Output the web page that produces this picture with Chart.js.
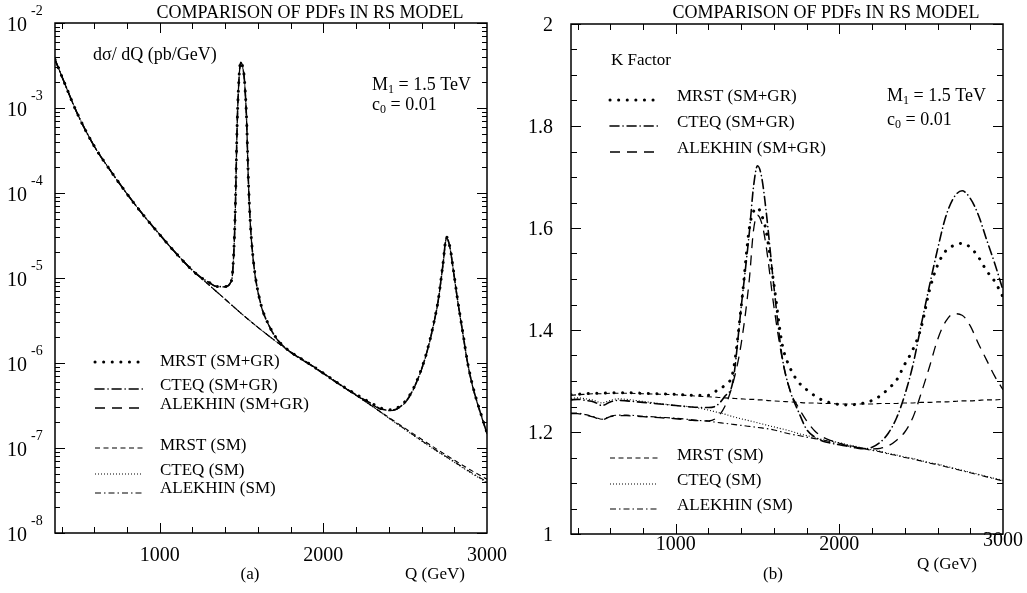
<!DOCTYPE html>
<html>
<head>
<meta charset="utf-8">
<script src="https://cdn.jsdelivr.net/npm/chart.js@4/dist/chart.umd.min.js"></script>
<style>
  body { margin: 0; background: #fff; }
  #wrap { position: relative; width: 1027px; height: 593px; }
  canvas { position: absolute; top: 0; }
</style>
</head>
<body>
<div id="wrap">
  <canvas id="left" width="515" height="593" style="left:0"></canvas>
  <canvas id="right" width="512" height="593" style="left:515px"></canvas>
</div>
<script>
// ---- panel (a): d sigma / dQ  (pb/GeV), log scale ----
const qSM = [360, 400, 500, 600, 700, 800, 900, 1000, 1100, 1200, 1300, 1400, 1500, 1600, 1700,
  1800, 1900, 2000, 2100, 2200, 2300, 2400, 2500, 2600, 2700, 2800, 2900, 3000];
const mrstSM = [3.72e-3, 2.40e-3, 8.32e-4, 3.55e-4, 1.82e-4, 9.77e-5, 5.50e-5, 3.24e-5, 1.95e-5, 1.23e-5,
  8.32e-6, 5.62e-6, 3.80e-6, 2.63e-6, 1.86e-6, 1.35e-6, 1.02e-6, 7.59e-7, 5.62e-7, 4.17e-7,
  3.09e-7, 2.29e-7, 1.70e-7, 1.27e-7, 9.5e-8, 7.2e-8, 5.5e-8, 4.3e-8];
const cteqSM = [3.72e-3, 2.40e-3, 8.32e-4, 3.55e-4, 1.82e-4, 9.77e-5, 5.50e-5, 3.24e-5, 1.95e-5, 1.23e-5,
  8.32e-6, 5.62e-6, 3.80e-6, 2.63e-6, 1.86e-6, 1.35e-6, 1.02e-6, 7.59e-7, 5.62e-7, 4.17e-7,
  3.09e-7, 2.24e-7, 1.64e-7, 1.21e-7, 9.0e-8, 6.8e-8, 5.1e-8, 3.9e-8];
const alekhinSM = [3.72e-3, 2.40e-3, 8.32e-4, 3.55e-4, 1.82e-4, 9.77e-5, 5.50e-5, 3.24e-5, 1.95e-5, 1.23e-5,
  8.32e-6, 5.62e-6, 3.80e-6, 2.63e-6, 1.86e-6, 1.35e-6, 1.02e-6, 7.59e-7, 5.62e-7, 4.17e-7,
  3.09e-7, 2.26e-7, 1.66e-7, 1.22e-7, 9.1e-8, 6.9e-8, 5.2e-8, 4.0e-8];

const qGR = [360, 400, 500, 600, 700, 800, 900, 1000, 1100, 1200, 1250, 1300, 1350, 1400, 1430, 1445,
  1460, 1474, 1485, 1495, 1505, 1517, 1531, 1541, 1552, 1572, 1612, 1674, 1735, 1800, 1900, 2000,
  2100, 2200, 2300, 2350, 2400, 2450, 2510, 2550, 2590, 2620, 2651, 2680, 2702, 2730, 2753, 2775,
  2792, 2820, 2853, 2880, 2914, 2950, 2975, 3000];
const mrstGR = [3.72e-3, 2.40e-3, 8.32e-4, 3.55e-4, 1.82e-4, 9.77e-5, 5.50e-5, 3.24e-5, 1.95e-5, 1.23e-5,
  1.02e-5, 8.91e-6, 7.94e-6, 7.94e-6, 8.71e-6, 1.15e-5, 4.79e-5, 7.24e-4, 2.34e-3, 3.51e-3,
  3.16e-3, 2.24e-3, 7.24e-4, 1.58e-4, 5.01e-5, 1.62e-5, 5.50e-6, 2.63e-6, 1.74e-6, 1.35e-6,
  1.02e-6, 7.59e-7, 5.62e-7, 4.27e-7, 3.31e-7, 2.95e-7, 2.82e-7, 2.95e-7, 3.72e-7, 5.01e-7,
  7.59e-7, 1.12e-6, 1.86e-6, 3.31e-6, 5.50e-6, 1.41e-5, 3.02e-5, 2.24e-5, 1.35e-5, 5.62e-6,
  2.24e-6, 1.05e-6, 5.25e-7, 3.02e-7, 2.14e-7, 1.51e-7];
const cteqGR = [3.72e-3, 2.40e-3, 8.32e-4, 3.55e-4, 1.82e-4, 9.77e-5, 5.50e-5, 3.24e-5, 1.95e-5, 1.23e-5,
  1.02e-5, 8.91e-6, 7.94e-6, 7.90e-6, 8.65e-6, 1.14e-5, 4.70e-5, 7.10e-4, 2.30e-3, 3.45e-3,
  3.12e-3, 2.20e-3, 7.10e-4, 1.55e-4, 4.95e-5, 1.60e-5, 5.45e-6, 2.61e-6, 1.73e-6, 1.34e-6,
  1.01e-6, 7.55e-7, 5.58e-7, 4.22e-7, 3.27e-7, 2.90e-7, 2.78e-7, 2.90e-7, 3.66e-7, 4.95e-7,
  7.50e-7, 1.11e-6, 1.84e-6, 3.27e-6, 5.45e-6, 1.40e-5, 2.98e-5, 2.21e-5, 1.33e-5, 5.55e-6,
  2.21e-6, 1.04e-6, 5.18e-7, 2.98e-7, 2.10e-7, 1.48e-7];
const alekhinGR = [3.72e-3, 2.40e-3, 8.32e-4, 3.55e-4, 1.82e-4, 9.77e-5, 5.50e-5, 3.24e-5, 1.95e-5, 1.23e-5,
  1.02e-5, 8.85e-6, 7.90e-6, 7.85e-6, 8.60e-6, 1.13e-5, 4.65e-5, 7.00e-4, 2.28e-3, 3.42e-3,
  3.10e-3, 2.18e-3, 7.00e-4, 1.53e-4, 4.90e-5, 1.58e-5, 5.40e-6, 2.60e-6, 1.72e-6, 1.33e-6,
  1.00e-6, 7.50e-7, 5.55e-7, 4.18e-7, 3.22e-7, 2.85e-7, 2.75e-7, 2.86e-7, 3.60e-7, 4.88e-7,
  7.42e-7, 1.10e-6, 1.82e-6, 3.24e-6, 5.40e-6, 1.38e-5, 2.95e-5, 2.19e-5, 1.32e-5, 5.50e-6,
  2.18e-6, 1.03e-6, 5.12e-7, 2.95e-7, 2.08e-7, 1.46e-7];

// ---- panel (b): K factor ----
const qK = [360, 400, 450, 500, 550, 600, 650, 700, 800, 900, 1000, 1100, 1200, 1250, 1300, 1350, 1400,
  1450, 1475, 1500, 1525, 1550, 1600, 1650, 1700, 1750, 1800, 1850, 1900, 1950, 2000, 2050, 2100,
  2150, 2200, 2250, 2300, 2350, 2400, 2450, 2500, 2550, 2600, 2650, 2700, 2750, 2800, 2850, 2900,
  2950, 3000];
const kMrstSM = [1.272, 1.273, 1.274, 1.275, 1.275, 1.276, 1.276, 1.276, 1.275, 1.274,
  1.273, 1.271, 1.269, 1.268, 1.267, 1.266, 1.265, 1.264, 1.264, 1.263,
  1.263, 1.262, 1.261, 1.260, 1.259, 1.258, 1.257, 1.257, 1.256, 1.256,
  1.255, 1.255, 1.255, 1.255, 1.255, 1.256, 1.256, 1.256, 1.257, 1.257,
  1.258, 1.258, 1.259, 1.259, 1.260, 1.261, 1.261, 1.262, 1.263, 1.263, 1.264];
const kMrstGR = [1.273, 1.274, 1.275, 1.276, 1.276, 1.277, 1.277, 1.277, 1.276, 1.275,
  1.274, 1.272, 1.272, 1.281, 1.292, 1.318, 1.445, 1.600, 1.632, 1.640,
  1.625, 1.598, 1.490, 1.373, 1.325, 1.298, 1.283, 1.271, 1.262, 1.257,
  1.254, 1.253, 1.254, 1.257, 1.262, 1.271, 1.285, 1.302, 1.333, 1.362,
  1.405, 1.477, 1.527, 1.555, 1.566, 1.570, 1.562, 1.543, 1.516, 1.495, 1.465];
const kCteqSM = [1.266, 1.267, 1.265, 1.262, 1.257, 1.262, 1.265, 1.264, 1.260, 1.256,
  1.252, 1.249, 1.243, 1.239, 1.235, 1.230, 1.226, 1.222, 1.220, 1.218,
  1.216, 1.214, 1.210, 1.206, 1.202, 1.197, 1.193, 1.189, 1.185, 1.182,
  1.179, 1.175, 1.172, 1.168, 1.165, 1.162, 1.158, 1.155, 1.151, 1.148,
  1.144, 1.140, 1.137, 1.133, 1.129, 1.125, 1.121, 1.117, 1.113, 1.109, 1.105];
const kCteqGR = [1.263, 1.264, 1.262, 1.259, 1.252, 1.259, 1.262, 1.261, 1.258, 1.255,
  1.252, 1.249, 1.248, 1.252, 1.270, 1.300, 1.445, 1.592, 1.680, 1.722,
  1.700, 1.640, 1.485, 1.348, 1.280, 1.240, 1.205, 1.190, 1.182, 1.178,
  1.175, 1.172, 1.169, 1.167, 1.170, 1.180, 1.198, 1.228, 1.273, 1.332,
  1.410, 1.486, 1.558, 1.622, 1.660, 1.673, 1.658, 1.625, 1.577, 1.530, 1.478];
const kAlekhinSM = [1.237, 1.237, 1.234, 1.230, 1.225, 1.231, 1.233, 1.233, 1.231, 1.229,
  1.227, 1.224, 1.221, 1.219, 1.217, 1.215, 1.213, 1.211, 1.210, 1.209,
  1.208, 1.207, 1.204, 1.200, 1.196, 1.193, 1.190, 1.187, 1.184, 1.181,
  1.178, 1.174, 1.171, 1.167, 1.164, 1.161, 1.157, 1.154, 1.150, 1.147,
  1.143, 1.139, 1.136, 1.132, 1.128, 1.124, 1.120, 1.116, 1.112, 1.108, 1.104];
const kAlekhinGR = [1.236, 1.236, 1.233, 1.229, 1.224, 1.230, 1.232, 1.232, 1.230, 1.228,
  1.226, 1.223, 1.222, 1.228, 1.250, 1.296, 1.373, 1.500, 1.595, 1.625,
  1.610, 1.570, 1.446, 1.345, 1.280, 1.248, 1.222, 1.202, 1.190, 1.183,
  1.178, 1.173, 1.170, 1.168, 1.167, 1.168, 1.173, 1.184, 1.200, 1.229,
  1.276, 1.327, 1.381, 1.417, 1.432, 1.429, 1.408, 1.373, 1.341, 1.309, 1.283];

// tick labels
const xTickLabels = [1000, 2000, 3000];
const xMinorTicks = [400, 600, 800, 1000, 1200, 1400, 1600, 1800, 2000, 2200, 2400, 2600, 2800];
const logDecades = [1e-2, 1e-3, 1e-4, 1e-5, 1e-6, 1e-7, 1e-8];
const logExponents = ['-2', '-3', '-4', '-5', '-6', '-7', '-8'];
const kTickLabels = ['1', '1.2', '1.4', '1.6', '1.8', '2'];
const kTickValues = [1, 1.2, 1.4, 1.6, 1.8, 2];

const FONT = '"Liberation Serif", "DejaVu Serif", "Times New Roman", serif';

const styles = {
  mrstGR: { borderDash: [0.1, 8.5], borderWidth: 3, borderCapStyle: 'round' },
  cteqGR: { borderDash: [9, 4, 0.1, 4], borderWidth: 1.6, borderCapStyle: 'round' },
  alekhinGR: { borderDash: [10, 7], borderWidth: 1.3, borderCapStyle: 'butt' },
  mrstSM: { borderDash: [5, 3.5], borderWidth: 1.1, borderCapStyle: 'butt' },
  cteqSM: { borderDash: [1, 2], borderWidth: 1.1, borderCapStyle: 'butt' },
  alekhinSM: { borderDash: [6, 3, 1.5, 3], borderWidth: 1.1, borderCapStyle: 'butt' }
};

function pts(xs, ys) {
  return xs.map((x, i) => ({ x: x, y: ys[i] }));
}

function series(label, key, xs, ys) {
  return Object.assign({ label: label, data: pts(xs, ys), borderColor: '#000' }, styles[key]);
}

function drawParts(ctx, x, y, parts, align) {
  let w = 0;
  parts.forEach(p => { ctx.font = p[1] + 'px ' + FONT; w += ctx.measureText(p[0]).width; });
  let cx = align === 'center' ? x - w / 2 : (align === 'right' ? x - w : x);
  ctx.textAlign = 'left';
  ctx.textBaseline = 'alphabetic';
  parts.forEach(p => {
    ctx.font = p[1] + 'px ' + FONT;
    ctx.fillText(p[0], cx, y + p[2]);
    cx += ctx.measureText(p[0]).width;
  });
}

const frame = {
  id: 'frame',
  afterDatasetsDraw(chart, args, o) {
    const ctx = chart.ctx, a = chart.chartArea;
    const xs = chart.scales.x, ys = chart.scales.y;
    const off = o.offset;
    ctx.save();
    ctx.fillStyle = '#000';
    ctx.strokeStyle = '#000';
    ctx.setLineDash([]);

    // ticks, pointing inwards on all sides
    ctx.lineWidth = 1;
    ctx.beginPath();
    xMinorTicks.forEach(v => {
      const px = Math.round(xs.getPixelForValue(v)) + 0.5;
      const len = (v === 1000 || v === 2000) ? 10 : 6;
      ctx.moveTo(px, a.bottom); ctx.lineTo(px, a.bottom - len);
      ctx.moveTo(px, a.top); ctx.lineTo(px, a.top + len);
    });
    o.yTicks.forEach(t => {
      const py = Math.round(ys.getPixelForValue(t[0])) + 0.5;
      ctx.moveTo(a.left, py); ctx.lineTo(a.left + t[1], py);
      ctx.moveTo(a.right, py); ctx.lineTo(a.right - t[1], py);
    });
    ctx.stroke();

    ctx.lineWidth = 1.5;
    ctx.strokeRect(a.left, a.top, a.right - a.left, a.bottom - a.top);

    // tick labels
    xTickLabels.forEach(v => {
      const px = xs.getPixelForValue(v);
      const by = (v === 3000) ? o.xLabelY3000 : o.xLabelY;
      drawParts(ctx, px, by, [[String(v), 20, 0]], 'center');
    });
    o.yLabels(ctx, ys, a);

    // annotations and legend
    o.texts.forEach(t => drawParts(ctx, t.x - off, t.y, t.parts, t.align || 'left'));
    o.legend.forEach(item => {
      const ds = chart.data.datasets.find(d => d.label === item.label);
      ctx.save();
      ctx.lineWidth = ds.borderWidth;
      ctx.lineCap = ds.borderCapStyle;
      ctx.setLineDash(ds.borderDash);
      ctx.beginPath();
      ctx.moveTo(o.sampleX[0] - off, item.ly);
      ctx.lineTo(o.sampleX[1] - off, item.ly);
      ctx.stroke();
      ctx.restore();
      drawParts(ctx, o.textX - off, item.ty, [[item.label, 17, 0]], 'left');
    });
    ctx.restore();
  }
};

function logTicks() {
  const t = [];
  logDecades.forEach(d => {
    t.push([d, 10]);
    if (d < 1e-2) for (let m = 2; m <= 9; m++) t.push([d * m, 5]);
  });
  return t;
}

function kTicks() {
  const t = [];
  for (let i = 0; i <= 20; i++) {
    const v = 1 + i * 0.05;
    t.push([v, i % 4 === 0 ? 10 : 6]);
  }
  return t;
}

const baseOptions = (pad, yScale, frameOpts) => ({
  responsive: false,
  animation: false,
  devicePixelRatio: 1,
  layout: { padding: pad },
  scales: {
    x: { type: 'linear', min: 360, max: 3000, display: false },
    y: yScale
  },
  elements: {
    point: { radius: 0 },
    line: { fill: false, cubicInterpolationMode: 'monotone' }
  },
  plugins: { legend: { display: false }, tooltip: { enabled: false }, frame: frameOpts }
});

// ---------- left panel ----------
new Chart(document.getElementById('left'), {
  type: 'line',
  data: {
    datasets: [
      series('MRST (SM)', 'mrstSM', qSM, mrstSM),
      series('CTEQ (SM)', 'cteqSM', qSM, cteqSM),
      series('ALEKHIN (SM)', 'alekhinSM', qSM, alekhinSM),
      series('ALEKHIN (SM+GR)', 'alekhinGR', qGR, alekhinGR),
      series('CTEQ (SM+GR)', 'cteqGR', qGR, cteqGR),
      series('MRST (SM+GR)', 'mrstGR', qGR, mrstGR)
    ]
  },
  options: baseOptions(
    { left: 55, right: 28, top: 23, bottom: 60 },
    { type: 'logarithmic', min: 1e-8, max: 1e-2, display: false },
    {
      offset: 0,
      yTicks: logTicks(),
      xLabelY: 561,
      xLabelY3000: 561,
      yLabels(ctx, ys) {
        logDecades.forEach((d, i) => {
          const py = ys.getPixelForValue(d);
          drawParts(ctx, 7, py + 8, [['10', 20, 0]], 'left');
          drawParts(ctx, 31, py - 8, [[logExponents[i], 14, 0]], 'left');
        });
      },
      texts: [
        { x: 310, y: 18, align: 'center', parts: [['COMPARISON OF PDFs IN RS MODEL', 18, 0]] },
        { x: 93, y: 60, parts: [['d\u03c3/ dQ (pb/GeV)', 18, 0]] },
        { x: 372, y: 90, parts: [['M', 18, 0], ['1', 12, 3], [' = 1.5 TeV', 18, 0]] },
        { x: 372, y: 110, parts: [['c', 18, 0], ['0', 12, 3], [' = 0.01', 18, 0]] },
        { x: 250, y: 579, align: 'center', parts: [['(a)', 17, 0]] },
        { x: 405, y: 579, parts: [['Q (GeV)', 17, 0]] }
      ],
      sampleX: [95, 143],
      textX: 160,
      legend: [
        { label: 'MRST (SM+GR)', ly: 362, ty: 366 },
        { label: 'CTEQ (SM+GR)', ly: 389, ty: 390 },
        { label: 'ALEKHIN (SM+GR)', ly: 408, ty: 409 },
        { label: 'MRST (SM)', ly: 448, ty: 450 },
        { label: 'CTEQ (SM)', ly: 474, ty: 475 },
        { label: 'ALEKHIN (SM)', ly: 493, ty: 493 }
      ]
    }
  ),
  plugins: [frame]
});

// ---------- right panel ----------
new Chart(document.getElementById('right'), {
  type: 'line',
  data: {
    datasets: [
      series('MRST (SM)', 'mrstSM', qK, kMrstSM),
      series('CTEQ (SM)', 'cteqSM', qK, kCteqSM),
      series('ALEKHIN (SM)', 'alekhinSM', qK, kAlekhinSM),
      series('ALEKHIN (SM+GR)', 'alekhinGR', qK, kAlekhinGR),
      series('CTEQ (SM+GR)', 'cteqGR', qK, kCteqGR),
      series('MRST (SM+GR)', 'mrstGR', qK, kMrstGR)
    ]
  },
  options: baseOptions(
    { left: 56, right: 24, top: 24, bottom: 59 },
    { type: 'linear', min: 1, max: 2, display: false },
    {
      offset: 515,
      yTicks: kTicks(),
      xLabelY: 550,
      xLabelY3000: 546,
      yLabels(ctx, ys) {
        kTickValues.forEach((v, i) => {
          const py = ys.getPixelForValue(v);
          drawParts(ctx, 553 - 515, py + 7, [[kTickLabels[i], 20, 0]], 'right');
        });
      },
      texts: [
        { x: 826, y: 18, align: 'center', parts: [['COMPARISON OF PDFs IN RS MODEL', 18, 0]] },
        { x: 611, y: 65, parts: [['K Factor', 17, 0]] },
        { x: 887, y: 101, parts: [['M', 18, 0], ['1', 12, 3], [' = 1.5 TeV', 18, 0]] },
        { x: 887, y: 125, parts: [['c', 18, 0], ['0', 12, 3], [' = 0.01', 18, 0]] },
        { x: 773, y: 579, align: 'center', parts: [['(b)', 17, 0]] },
        { x: 917, y: 569, parts: [['Q (GeV)', 17, 0]] }
      ],
      sampleX: [610, 658],
      textX: 677,
      legend: [
        { label: 'MRST (SM+GR)', ly: 100, ty: 101 },
        { label: 'CTEQ (SM+GR)', ly: 126, ty: 127 },
        { label: 'ALEKHIN (SM+GR)', ly: 152, ty: 153 },
        { label: 'MRST (SM)', ly: 458, ty: 460 },
        { label: 'CTEQ (SM)', ly: 484, ty: 485 },
        { label: 'ALEKHIN (SM)', ly: 509, ty: 510 }
      ]
    }
  ),
  plugins: [frame]
});
</script>
</body>
</html>
